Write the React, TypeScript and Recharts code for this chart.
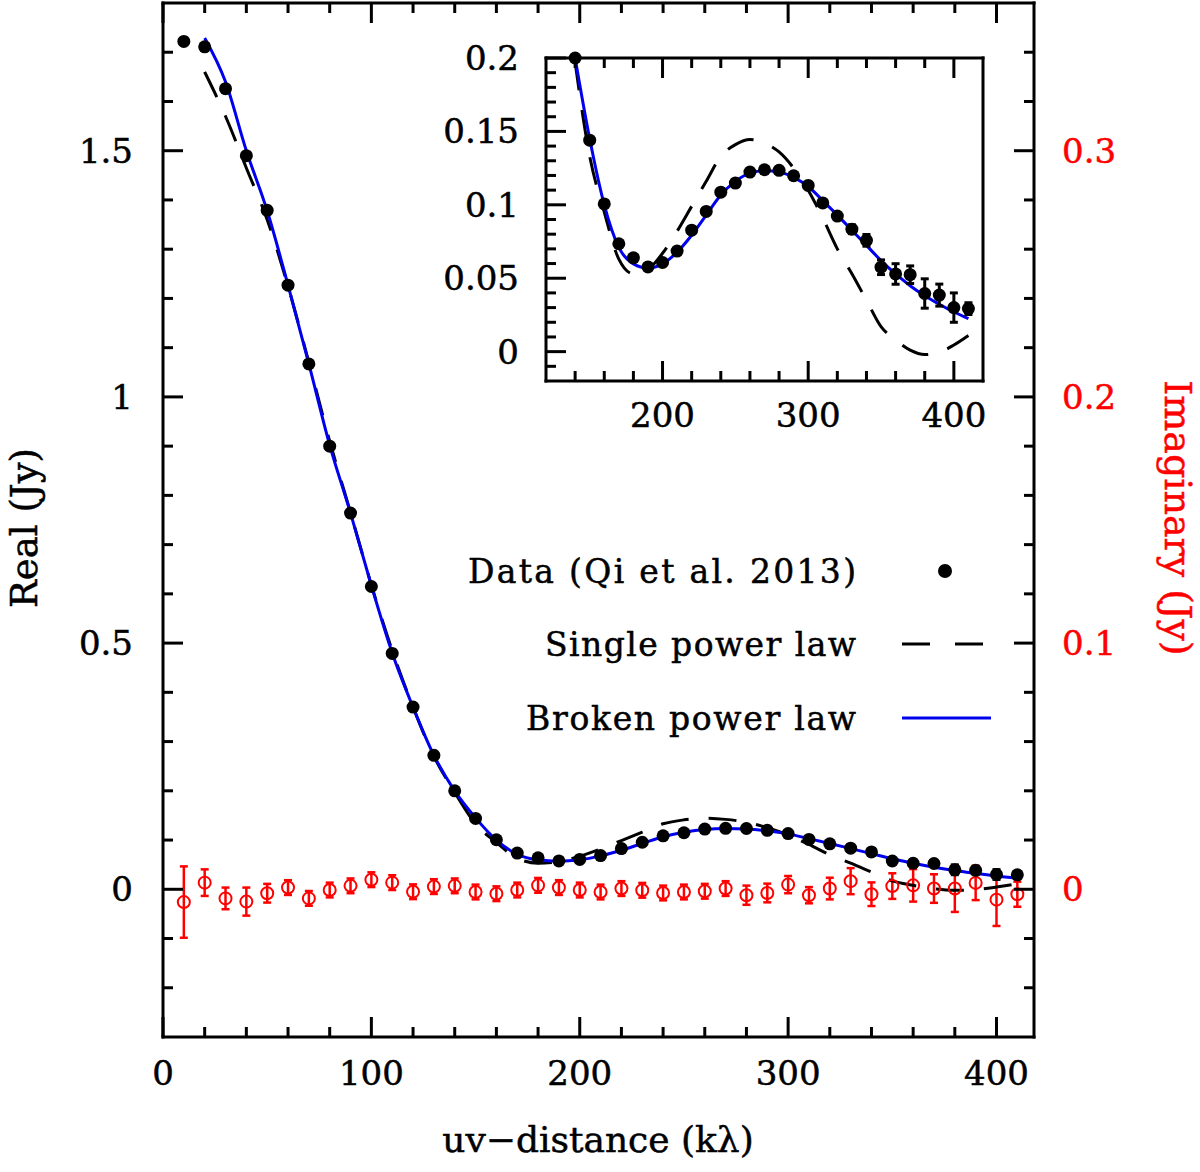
import React from 'react';
import { ComposedChart, Line, Scatter, XAxis, YAxis, ErrorBar } from 'recharts';

// uv-distance in k-lambda, one entry per data point
const uvDistance = [
  10, 20, 30, 40, 50, 60, 70, 80, 90, 100, 110, 120, 130, 140, 150, 160, 170, 180, 190, 200,
  210, 220, 230, 240, 250, 260, 270, 280, 290, 300, 310, 320, 330, 340, 350, 360, 370, 380, 390, 400, 410,
];

// real part (Jy), black dots
const realJy = [
  1.722, 1.711, 1.626, 1.49, 1.379, 1.227, 1.067, 0.9, 0.764, 0.615, 0.479, 0.37, 0.272, 0.2, 0.144,
  0.1006, 0.0735, 0.0639, 0.0577, 0.0607, 0.0685, 0.0827, 0.0955, 0.1086, 0.1148, 0.1223, 0.1239,
  0.1235, 0.1198, 0.1132, 0.1013, 0.0923, 0.0834, 0.0758, 0.0575, 0.0529, 0.0524, 0.0396, 0.0385,
  0.03, 0.0293,
];
const realErrJy = [
  0, 0, 0, 0, 0, 0, 0, 0, 0, 0, 0, 0, 0, 0, 0,
  0.002, 0.002, 0.002, 0.002, 0.002, 0.002, 0.002, 0.002, 0.002, 0.002, 0.002, 0.002, 0.002, 0.002,
  0.002, 0.002, 0.002, 0.003, 0.004, 0.005, 0.007, 0.006, 0.01, 0.0075, 0.01, 0.004,
];

// imaginary part (Jy), red open circles on the right axis
const imagJy = [
  -0.0052, 0.0027, -0.0037, -0.005, -0.0016, 0.0007, -0.0037, -0.0003, 0.0014, 0.0039,
  0.0027, -0.001, 0.0011, 0.0014, -0.0011, -0.0018, -0.0003, 0.0016, 0.0007, -0.0003,
  -0.0011, 0.0003, -0.0004, -0.0015, -0.0011, -0.0008, 0.0003, -0.0024, -0.0015, 0.0019,
  -0.0024, 0.0003, 0.0033, -0.002, 0.0013, 0.0016, 0.0003, 0.0003, 0.0026, -0.0042, -0.002,
];
const imagErrJy = [
  0.0145, 0.0054, 0.0044, 0.0057, 0.0038, 0.003, 0.003, 0.003, 0.003, 0.003,
  0.003, 0.003, 0.003, 0.003, 0.003, 0.003, 0.003, 0.003, 0.003, 0.003,
  0.003, 0.003, 0.003, 0.003, 0.003, 0.003, 0.003, 0.0039, 0.0038, 0.0035,
  0.0033, 0.0044, 0.0053, 0.0048, 0.0052, 0.0066, 0.0058, 0.0095, 0.007, 0.0107, 0.0051,
];

// model curves
const singlePowerLaw = [
  null, 1.66, 1.57, 1.465, 1.36, 1.225, 1.07, 0.91, 0.765, 0.618,
  0.485, 0.37, 0.27, 0.197, 0.133, 0.095, 0.063, 0.053, 0.056, 0.067,
  0.082, 0.099, 0.116, 0.133, 0.141, 0.1445, 0.142, 0.136, 0.125, 0.11,
  0.091, 0.07, 0.053, 0.035, 0.017, 0.008, 0.001, -0.002, -0.0005, 0.0045, 0.011,
];
const brokenPowerLaw = [
  null, 1.729, 1.64, 1.5, 1.378, 1.227, 1.067, 0.902, 0.764, 0.617,
  0.48, 0.37, 0.272, 0.2, 0.145, 0.1, 0.071, 0.0598, 0.057, 0.0598,
  0.0678, 0.0793, 0.093, 0.1067, 0.116, 0.1216, 0.1232, 0.1223, 0.1187, 0.1125,
  0.1029, 0.093, 0.0827, 0.0724, 0.062, 0.0529, 0.0449, 0.038, 0.0323, 0.027, 0.0225,
];

// ticks
const mainXTicks = [0, 20, 40, 60, 80, 100, 120, 140, 160, 180, 200, 220, 240, 260, 280, 300, 320, 340, 360, 380, 400];
const mainXLabels = [0, 100, 200, 300, 400];
const realTicks = [-0.2, -0.1, 0, 0.1, 0.2, 0.3, 0.4, 0.5, 0.6, 0.7, 0.8, 0.9, 1, 1.1, 1.2, 1.3, 1.4, 1.5, 1.6, 1.7];
const realLabels = [0, 0.5, 1, 1.5];
const imagTicks = [-0.04, -0.02, 0, 0.02, 0.04, 0.06, 0.08, 0.1, 0.12, 0.14, 0.16, 0.18, 0.2, 0.22, 0.24, 0.26, 0.28, 0.3, 0.32, 0.34];
const imagLabels = [0, 0.1, 0.2, 0.3];
const insetXTicks = [140, 160, 180, 200, 220, 240, 260, 280, 300, 320, 340, 360, 380, 400];
const insetXLabels = [200, 300, 400];
const insetYTicks = [-0.01, 0, 0.01, 0.02, 0.03, 0.04, 0.05, 0.06, 0.07, 0.08, 0.09, 0.1, 0.11, 0.12, 0.13, 0.14, 0.15, 0.16, 0.17, 0.18, 0.19, 0.2];
const insetYLabels = [0, 0.05, 0.1, 0.15, 0.2];

const insetFrom = 140;

const rows = uvDistance.map((x, i) => ({
  x,
  real: realJy[i],
  realErr: realErrJy[i],
  imag: imagJy[i],
  imagErr: imagErrJy[i],
  single: singlePowerLaw[i],
  broken: brokenPowerLaw[i],
}));
const insetRows = rows.filter((r) => r.x >= insetFrom);

const FONT = '"DejaVu Serif", serif';
const BLUE = '#0000ee';
const RED = '#ff0000';
const frame = { stroke: '#000', strokeWidth: 3, strokeLinecap: 'square' as const };

const isIn = (v: number, list: number[]) => list.some((m) => Math.abs(m - v) < 1e-6);

type Side = 'bottom' | 'top' | 'left' | 'right';

// ticks point inward, labels only on the major ones
function makeTick(side: Side, labels: number[], gap = 30, color = '#000', showText = true) {
  return function Tick(props: any) {
    const { x, y, payload } = props;
    const v = payload.value;
    const big = isIn(v, labels);
    const len = big ? 20 : 10;
    let x2 = x;
    let y2 = y;
    let tx = x;
    let ty = y;
    let anchor = 'middle';
    if (side === 'bottom') {
      y2 = y - len;
      ty = y + gap;
    } else if (side === 'top') {
      y2 = y + len;
    } else if (side === 'left') {
      x2 = x + len;
      tx = x - gap;
      ty = y + 12;
      anchor = 'end';
    } else {
      x2 = x - len;
      tx = x + gap;
      ty = y + 12;
      anchor = 'start';
    }
    return (
      <g>
        <line x1={x} y1={y} x2={x2} y2={y2} stroke="#000" strokeWidth={3} />
        {showText && big && (
          <text x={tx} y={ty} textAnchor={anchor} fill={color} stroke={color} strokeWidth={0.5}
            fontSize={34} fontFamily={FONT}>
            {String(v)}
          </text>
        )}
      </g>
    );
  };
}

const BlackDot = (p: any) => <circle cx={p.cx} cy={p.cy} r={6.5} fill="#000" />;
const RedRing = (p: any) => <circle cx={p.cx} cy={p.cy} r={6} fill="none" stroke={RED} strokeWidth={2} />;

// axes are 1px boxes so that they still render; the margins put the frame where it belongs
const axisCommon = { tickLine: false, tickSize: 0, tickMargin: 0, interval: 0 as const, axisLine: frame };

const App: React.FC = () => {
  return (
    <div style={{ position: 'absolute', left: 0, top: 0, width: 1200, height: 1172, background: '#fff' }}>
      <ComposedChart width={1200} height={1172} data={rows} margin={{ top: 2, right: 165, bottom: 134, left: 162 }}>
        <XAxis xAxisId="b" dataKey="x" type="number" domain={[0, 418]} ticks={mainXTicks} height={1}
          {...axisCommon} tick={makeTick('bottom', mainXLabels, 48)} />
        <XAxis xAxisId="t" orientation="top" dataKey="x" type="number" domain={[0, 418]} ticks={mainXTicks} height={1}
          {...axisCommon} tick={makeTick('top', mainXLabels, 0, '#000', false)} />
        <YAxis yAxisId="l" type="number" domain={[-0.3, 1.8]} ticks={realTicks} width={1}
          {...axisCommon} tick={makeTick('left', realLabels, 30)} />
        <YAxis yAxisId="r" orientation="right" type="number" domain={[-0.06, 0.36]} ticks={imagTicks} width={1}
          {...axisCommon} tick={makeTick('right', imagLabels, 28, RED)} />

        <Scatter xAxisId="b" yAxisId="r" dataKey="imag" shape={RedRing} isAnimationActive={false}>
          <ErrorBar dataKey="imagErr" direction="y" width={4} stroke={RED} strokeWidth={2.5} isAnimationActive={false} />
        </Scatter>
        <Line xAxisId="b" yAxisId="l" type="monotone" dataKey="single" stroke="#000" strokeWidth={3}
          strokeDasharray="28 20" dot={false} activeDot={false} isAnimationActive={false} />
        <Line xAxisId="b" yAxisId="l" type="monotone" dataKey="broken" stroke={BLUE} strokeWidth={3}
          dot={false} activeDot={false} isAnimationActive={false} />
        <Scatter xAxisId="b" yAxisId="l" dataKey="real" shape={BlackDot} isAnimationActive={false}>
          <ErrorBar dataKey="realErr" direction="y" width={4} stroke="#000" strokeWidth={3} isAnimationActive={false} />
        </Scatter>
      </ComposedChart>

      <div style={{ position: 'absolute', left: 440, top: 20 }}>
        <ComposedChart width={580} height={430} data={insetRows} margin={{ top: 37, right: 36, bottom: 68, left: 105 }}>
          <XAxis xAxisId="b" dataKey="x" type="number" domain={[120, 420]} ticks={insetXTicks} height={1}
            {...axisCommon} tick={makeTick('bottom', insetXLabels, 46)} />
          <XAxis xAxisId="t" orientation="top" dataKey="x" type="number" domain={[120, 420]} ticks={insetXTicks} height={1}
            {...axisCommon} tick={makeTick('top', insetXLabels, 0, '#000', false)} />
          <YAxis yAxisId="l" type="number" domain={[-0.02, 0.2]} ticks={insetYTicks} width={1}
            {...axisCommon} tick={makeTick('left', insetYLabels, 27)} />
          <YAxis yAxisId="r" orientation="right" type="number" domain={[-0.02, 0.2]} ticks={insetYTicks} width={1}
            {...axisCommon} tick={makeTick('right', insetYLabels, 0, '#000', false)} />

          <Line xAxisId="b" yAxisId="l" type="monotone" dataKey="single" stroke="#000" strokeWidth={3}
            strokeDasharray="28 20" dot={false} activeDot={false} isAnimationActive={false} />
          <Line xAxisId="b" yAxisId="l" type="monotone" dataKey="broken" stroke={BLUE} strokeWidth={3}
            dot={false} activeDot={false} isAnimationActive={false} />
          <Scatter xAxisId="b" yAxisId="l" dataKey="real" shape={BlackDot} isAnimationActive={false}>
            <ErrorBar dataKey="realErr" direction="y" width={4} stroke="#000" strokeWidth={3} isAnimationActive={false} />
          </Scatter>
        </ComposedChart>
      </div>

      <svg width={1200} height={1172} style={{ position: 'absolute', left: 0, top: 0, pointerEvents: 'none' }}>
        <g fontFamily={FONT} strokeWidth={0.5}>
          <text x={598} y={1152} textAnchor="middle" fontSize={36} stroke="#000">uv−distance (kλ)</text>
          <text transform="translate(37,528) rotate(-90)" textAnchor="middle" fontSize={37} stroke="#000">Real (Jy)</text>
          <text transform="translate(1165,518) rotate(90)" textAnchor="middle" fontSize={38} fill={RED} stroke={RED}>
            Imaginary (Jy)
          </text>

          <text x={856} y={583} textAnchor="end" fontSize={33} textLength={388} stroke="#000">Data (Qi et al. 2013)</text>
          <circle cx={945} cy={571} r={7} fill="#000" />
          <text x={856} y={656} textAnchor="end" fontSize={33} textLength={311} stroke="#000">Single power law</text>
          <line x1={902} y1={644} x2={991} y2={644} stroke="#000" strokeWidth={3} strokeDasharray="28 25" />
          <text x={856} y={730} textAnchor="end" fontSize={33} textLength={330} stroke="#000">Broken power law</text>
          <line x1={902} y1={718} x2={991} y2={718} stroke={BLUE} strokeWidth={3} />
        </g>
      </svg>
    </div>
  );
};

export default App;
